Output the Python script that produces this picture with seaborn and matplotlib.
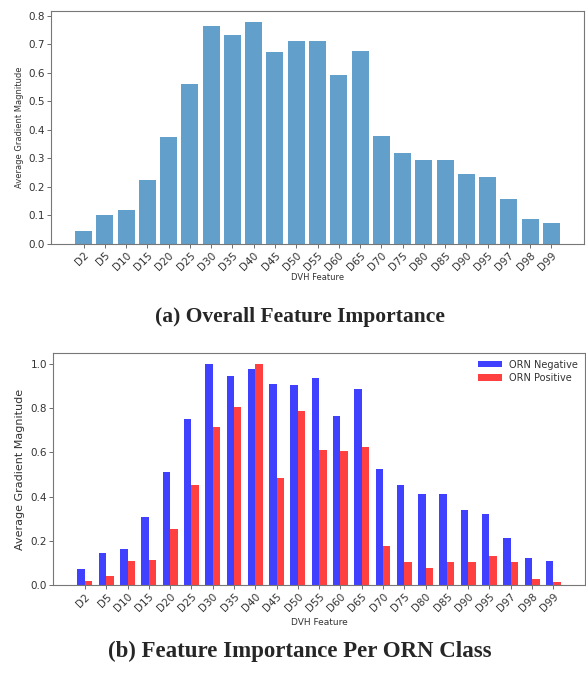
import matplotlib
matplotlib.use("Agg")
import matplotlib.pyplot as plt
import seaborn as sns
import pandas as pd

features = ["D2", "D5", "D10", "D15", "D20", "D25", "D30", "D35", "D40", "D45",
            "D50", "D55", "D60", "D65", "D70", "D75", "D80", "D85", "D90", "D95",
            "D97", "D98", "D99"]

overall = [0.046, 0.099, 0.118, 0.222, 0.375, 0.559, 0.764, 0.733, 0.778, 0.672,
           0.710, 0.710, 0.591, 0.676, 0.377, 0.319, 0.292, 0.292, 0.246, 0.234,
           0.157, 0.085, 0.072]

orn_negative = [0.075, 0.145, 0.163, 0.308, 0.513, 0.751, 1.000, 0.944, 0.977, 0.908,
                0.906, 0.935, 0.765, 0.888, 0.523, 0.454, 0.412, 0.412, 0.341, 0.321,
                0.213, 0.121, 0.110]
orn_positive = [0.021, 0.044, 0.109, 0.115, 0.253, 0.454, 0.713, 0.805, 1.000, 0.486,
                0.786, 0.611, 0.608, 0.623, 0.179, 0.106, 0.080, 0.107, 0.103, 0.131,
                0.103, 0.030, 0.015]

class_names = ["ORN Negative", "ORN Positive"]

sns.set_style("white")
plt.rcParams["font.family"] = ["DejaVu Sans"]

W, H = 586, 673
fig = plt.figure(figsize=(W / 100, H / 100), dpi=100)


def px_axes(left, top, right, bottom):
    return fig.add_axes([left / W, 1 - bottom / H, (right - left) / W, (bottom - top) / H])


def style_axes(ax, tick_size):
    for sp in ax.spines.values():
        sp.set_color("#777777")
        sp.set_linewidth(0.8)
    ax.tick_params(axis="both", which="both", bottom=True, left=True,
                   length=3, width=0.6, color="#555555", labelsize=tick_size,
                   labelcolor="#333333", pad=1.5)
    for lab in ax.get_xticklabels():
        lab.set_rotation(45)
        lab.set_ha("right")
        lab.set_rotation_mode("anchor")


# (a) overall importance
ax1 = px_axes(51, 11, 584, 243.7)
df1 = pd.DataFrame({"feature": features, "value": overall})
sns.barplot(data=df1, x="feature", y="value", order=features, color="#1f77b4",
            saturation=1, alpha=0.7, width=0.8, errorbar=None, linewidth=0, ax=ax1)
ax1.set_xlim(-1.54, len(features) - 1 + 1.54)
ax1.set_ylim(0, 0.816)
ax1.set_yticks([0.0, 0.1, 0.2, 0.3, 0.4, 0.5, 0.6, 0.7, 0.8])
ax1.set_yticklabels([f"{v:.1f}" for v in ax1.get_yticks()])
ax1.set_xlabel("DVH Feature", fontsize=6, color="#333333", labelpad=1)
ax1.set_ylabel("Average Gradient Magnitude", fontsize=6, color="#333333", labelpad=3)
style_axes(ax1, 7.5)

# (b) per-class importance
ax2 = px_axes(53.3, 352.7, 585, 585.3)
df2 = pd.DataFrame({
    "feature": features * 2,
    "value": orn_negative + orn_positive,
    "cls": [class_names[0]] * len(features) + [class_names[1]] * len(features),
})
sns.barplot(data=df2, x="feature", y="value", hue="cls", order=features,
            hue_order=class_names, palette={"ORN Negative": "blue", "ORN Positive": "red"},
            saturation=1, alpha=0.75, width=0.7, errorbar=None, linewidth=0, ax=ax2)
ax2.set_xlim(-1.485, len(features) - 1 + 1.485)
ax2.set_ylim(0, 1.05)
ax2.set_yticks([0.0, 0.2, 0.4, 0.6, 0.8, 1.0])
ax2.set_yticklabels([f"{v:.1f}" for v in ax2.get_yticks()])
ax2.set_xlabel("DVH Feature", fontsize=6.5, color="#333333", labelpad=3)
ax2.set_ylabel("Average Gradient Magnitude", fontsize=8, color="#333333", labelpad=4)
style_axes(ax2, 7.5)
leg = ax2.legend(loc="upper right", frameon=False, fontsize=7, handlelength=2.4,
                 handleheight=0.6, borderaxespad=0.3, labelspacing=0.35)
for t in leg.get_texts():
    t.set_color("#333333")

# captions
fig.text(300 / W, 1 - 317 / H, "(a) Overall Feature Importance", ha="center", va="center",
         fontsize=15.5, fontweight="bold", family=["Liberation Serif", "DejaVu Serif"])
fig.text(300 / W, 1 - 651 / H, "(b) Feature Importance Per ORN Class", ha="center",
         va="center", fontsize=16.5, fontweight="bold",
         family=["Liberation Serif", "DejaVu Serif"])

fig.savefig("out.png", dpi=100)
